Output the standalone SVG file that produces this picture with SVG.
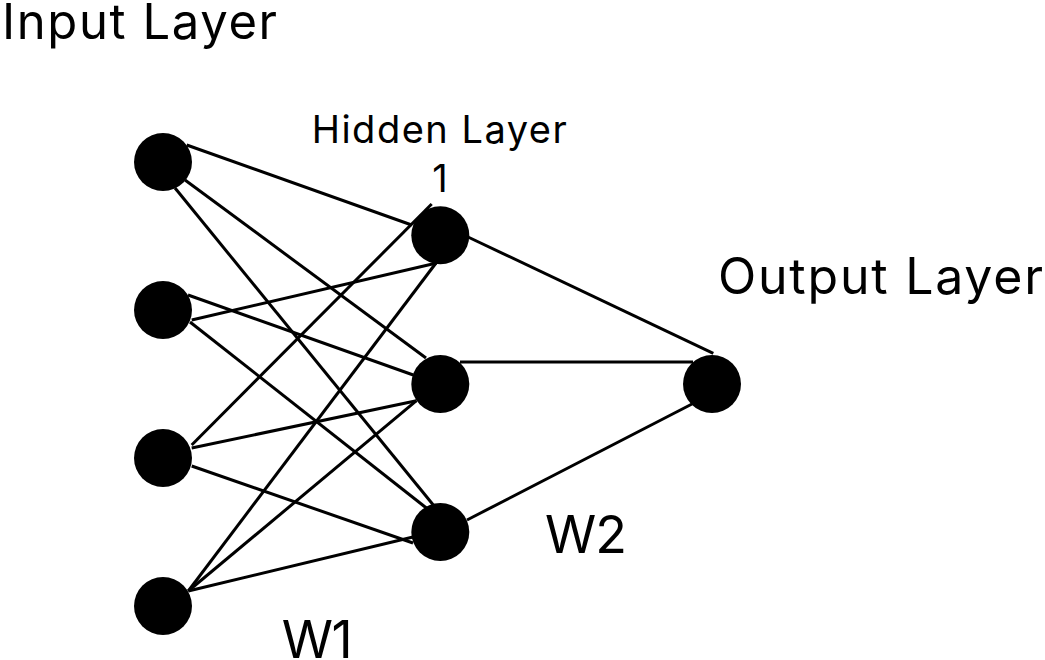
<svg xmlns="http://www.w3.org/2000/svg" width="1045" height="660" viewBox="0 0 1045 660">
<style>
.bg{fill:#ffffff}
.edge{stroke:#000000;stroke-width:3;stroke-linecap:butt;fill:none}
.node{fill:#000000}
.lbl{font-family:Inter,"Liberation Sans",Arial,sans-serif;fill:#000000}
</style>
<rect class="bg" x="0" y="0" width="1045" height="660"/>
<g id="connectors">
<line class="edge" x1="186.7" y1="145" x2="411.7" y2="225"/>
<line class="edge" x1="185" y1="180" x2="426" y2="358"/>
<line class="edge" x1="175" y1="188" x2="433.3" y2="505"/>
<line class="edge" x1="191.7" y1="320" x2="436.7" y2="263"/>
<line class="edge" x1="188" y1="295" x2="413.3" y2="375"/>
<line class="edge" x1="190" y1="322" x2="426.7" y2="508.3"/>
<line class="edge" x1="191.7" y1="445" x2="431.7" y2="204"/>
<line class="edge" x1="191.7" y1="448" x2="416.5" y2="400.7"/>
<line class="edge" x1="191.7" y1="466" x2="413" y2="543"/>
<line class="edge" x1="188.3" y1="591" x2="436" y2="263"/>
<line class="edge" x1="188.3" y1="591" x2="416.5" y2="400.7"/>
<line class="edge" x1="188.3" y1="591" x2="413" y2="537"/>
<line class="edge" x1="468" y1="237" x2="713.3" y2="353.3"/>
<line class="edge" x1="460" y1="362" x2="693" y2="362"/>
<line class="edge" x1="467" y1="520" x2="692" y2="404"/>
</g>
<g id="input1"><circle class="node" cx="163" cy="162" r="29"/></g>
<g id="input2"><circle class="node" cx="163" cy="310" r="29"/></g>
<g id="input3"><circle class="node" cx="163" cy="458" r="29"/></g>
<g id="input4"><circle class="node" cx="163" cy="606" r="29"/></g>
<g id="hidden1"><circle class="node" cx="440.3" cy="235.3" r="29"/></g>
<g id="hidden2"><circle class="node" cx="440.3" cy="384" r="29"/></g>
<g id="hidden3"><circle class="node" cx="440.3" cy="532" r="29"/></g>
<g id="output"><circle class="node" cx="712" cy="384" r="29"/></g>
<g id="labels">
<text class="lbl" x="2" y="38.5" font-size="49" textLength="275" lengthAdjust="spacing">Input Layer</text>
<text class="lbl" x="718" y="294" font-size="50" textLength="325" lengthAdjust="spacing">Output Layer</text>
<text class="lbl" x="311.7" y="142.7" font-size="38" textLength="255" lengthAdjust="spacing">Hidden Layer</text>
<text class="lbl" x="440" y="191.7" font-size="38" text-anchor="middle">1</text>
<text class="lbl" x="545" y="553" font-size="52" textLength="82" lengthAdjust="spacing">W2</text>
<text class="lbl" x="281.7" y="658" font-size="52" textLength="71" lengthAdjust="spacing">W1</text>
</g>
</svg>
